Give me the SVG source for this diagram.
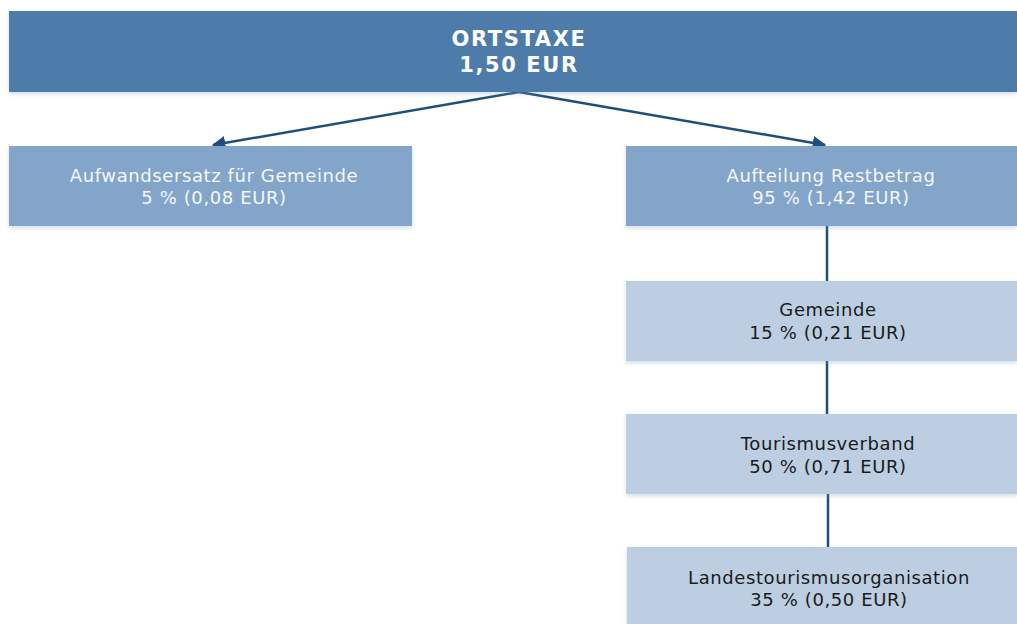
<svg xmlns="http://www.w3.org/2000/svg" width="1017" height="624" viewBox="0 0 1017 624">
<defs>
<filter id="sh" x="-5%" y="-10%" width="110%" height="130%">
<feDropShadow dx="0" dy="2" stdDeviation="2" flood-color="#7a9cc4" flood-opacity="0.35"/>
</filter>
<marker id="ah" viewBox="0 0 10 10" refX="9" refY="5" markerWidth="5.5" markerHeight="5.5" orient="auto" markerUnits="strokeWidth">
<path d="M0,0 L10,5 L0,10 z" fill="#1f4e7d"/>
</marker>
</defs>
<style>
.t{font-family:"DejaVu Sans",Verdana,sans-serif;font-size:18px;text-anchor:middle;letter-spacing:0.6px}
.w{fill:#f4f7fb}
.d{fill:#1a1a1a}
.top{font-family:"DejaVu Sans",Verdana,sans-serif;font-size:21px;font-weight:bold;text-anchor:middle;fill:#ffffff;letter-spacing:1.6px}
.c{stroke:#1f4e7d;stroke-width:2.5;fill:none}
.l1{fill:#82a5c9}
.l2{fill:#bdcee2}
</style>
<rect width="1017" height="624" fill="#ffffff"/>
<g id="connectors">
<line class="c" x1="519" y1="92" x2="213" y2="145" marker-end="url(#ah)"/>
<line class="c" x1="519" y1="92" x2="825" y2="145" marker-end="url(#ah)"/>
<line class="c" x1="827" y1="226" x2="827" y2="281"/>
<line class="c" x1="827" y1="361" x2="827" y2="414"/>
<line class="c" x1="828" y1="494" x2="828" y2="547"/>
</g>
<g id="ortstaxe">
<rect x="9" y="11" width="1008" height="81" fill="#4e7baa" filter="url(#sh)"/>
<text class="top" x="519" y="46">ORTSTAXE</text>
<text class="top" x="519" y="72">1,50 EUR</text>
</g>
<g id="aufwandsersatz">
<rect class="l1" x="9" y="146" width="403" height="80" filter="url(#sh)"/>
<text class="t w" x="214" y="182">Aufwandsersatz für Gemeinde</text>
<text class="t w" x="214" y="204">5 % (0,08 EUR)</text>
</g>
<g id="aufteilung">
<rect class="l1" x="626" y="146" width="391" height="80" filter="url(#sh)"/>
<text class="t w" x="831" y="182">Aufteilung Restbetrag</text>
<text class="t w" x="831" y="204">95 % (1,42 EUR)</text>
</g>
<g id="gemeinde">
<rect class="l2" x="626" y="281" width="391" height="80" filter="url(#sh)"/>
<text class="t d" x="828" y="316">Gemeinde</text>
<text class="t d" x="828" y="339">15 % (0,21 EUR)</text>
</g>
<g id="tourismusverband">
<rect class="l2" x="626" y="414" width="391" height="80" filter="url(#sh)"/>
<text class="t d" x="828" y="450">Tourismusverband</text>
<text class="t d" x="828" y="473">50 % (0,71 EUR)</text>
</g>
<g id="landestourismusorganisation">
<rect class="l2" x="627" y="547" width="390" height="80" filter="url(#sh)"/>
<text class="t d" x="829" y="584">Landestourismusorganisation</text>
<text class="t d" x="829" y="606">35 % (0,50 EUR)</text>
</g>
</svg>
